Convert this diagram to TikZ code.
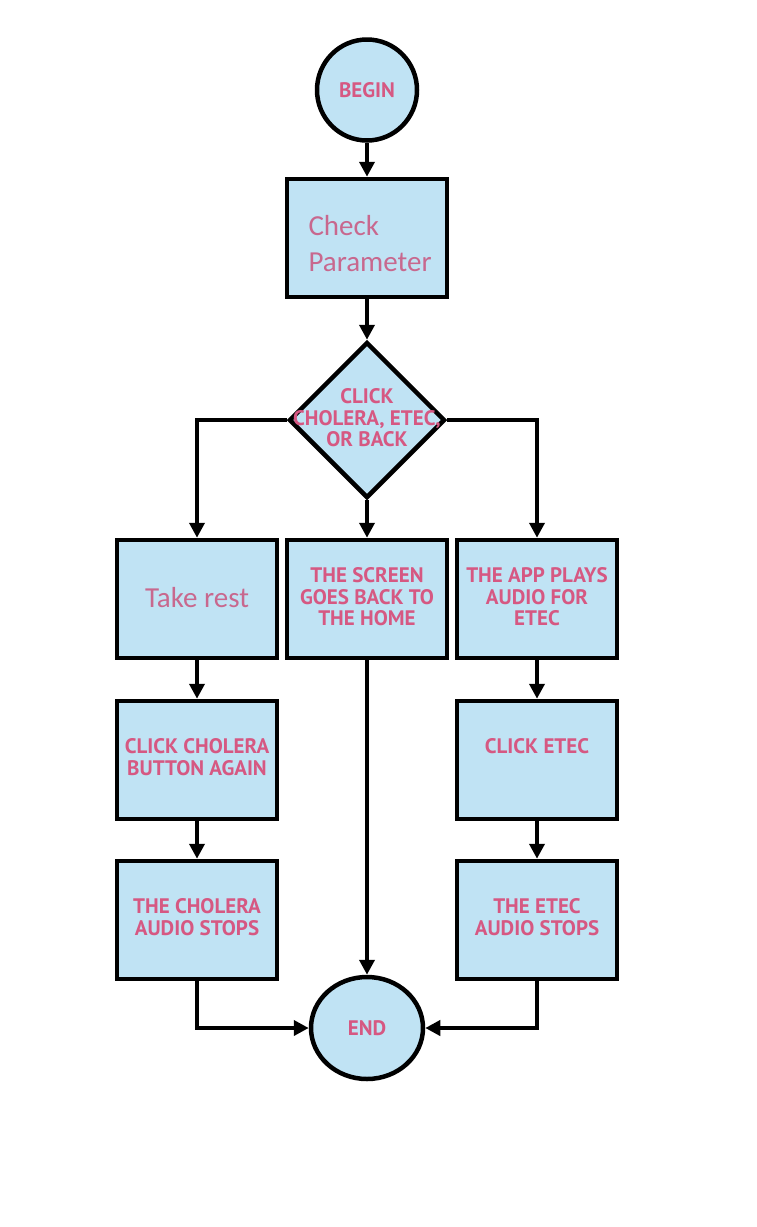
\documentclass[tikz,border=0pt]{standalone}
\usepackage{fontspec}
\setmainfont{Carlito}
\newfontfamily\comicf{PT Sans}
\usetikzlibrary{shapes.geometric,arrows.meta}
\definecolor{boxfill}{RGB}{192,227,244}
\definecolor{pinktxt}{RGB}{214,88,130}
\definecolor{mauvetxt}{RGB}{200,104,142}
\tikzset{
  x=1pt,y=-1pt,
  shapebase/.style={draw=black,line width=4.5pt,fill=boxfill,inner sep=0pt},
  procbox/.style={shapebase,rectangle,minimum width=160pt,minimum height=118pt},
  roundnode/.style={shapebase,ellipse},
  caps/.style={text=pinktxt,font=\comicf\bfseries\fontsize{21}{21.5}\selectfont,align=center},
  plain/.style={text=mauvetxt,font=\fontsize{29}{36}\selectfont,align=left},
  conn/.style={line width=4.5pt,-{Triangle[length=15pt,width=15pt]}}
}
\begin{document}
\begin{tikzpicture}
\useasboundingbox (0,0) rectangle (756,1227);
% nodes
\node[roundnode,minimum width=100pt,minimum height=101pt] (begin) at (367,90) {};
\node[caps] at (begin.center) {BEGIN};
\node[procbox] (check) at (367,238) {};
\node[plain,anchor=west] at (305,244) {Check\\Parameter};
\node[shapebase,diamond,minimum width=156pt,minimum height=156pt] (dia) at (367,420) {};
\node[caps] at (367,418) {CLICK\\CHOLERA, ETEC,\\OR BACK};
\node[procbox] (rest) at (197,599) {};
\node[plain,align=center] at (197,598) {Take rest};
\node[procbox] (screen) at (367,599) {};
\node[caps] at (367,597) {THE SCREEN\\GOES BACK TO\\THE HOME};
\node[procbox] (plays) at (537,599) {};
\node[caps] at (537,597) {THE APP PLAYS\\AUDIO FOR\\ETEC};
\node[procbox] (clickc) at (197,760) {};
\node[caps] at (197,757) {CLICK CHOLERA\\BUTTON AGAIN};
\node[procbox] (clicke) at (537,760) {};
\node[caps] at (537,746) {CLICK ETEC};
\node[procbox] (stopc) at (197,920) {};
\node[caps] at (197,917) {THE CHOLERA\\AUDIO STOPS};
\node[procbox] (stope) at (537,920) {};
\node[caps] at (537,917) {THE ETEC\\AUDIO STOPS};
\node[roundnode,minimum width=112pt,minimum height=102pt] (end) at (367,1028) {};
\node[caps] at (end.center) {END};
% connectors
\draw[conn] (begin.south) -- (check.north);
\draw[conn] (check.south) -- (dia.north);
\draw[conn] (dia.west) -| (rest.north);
\draw[conn] (dia.east) -| (plays.north);
\draw[conn] (dia.south) -- (screen.north);
\draw[conn] (rest.south) -- (clickc.north);
\draw[conn] (clickc.south) -- (stopc.north);
\draw[conn] (plays.south) -- (clicke.north);
\draw[conn] (clicke.south) -- (stope.north);
\draw[conn] (screen.south) -- (end.north);
\draw[conn] (stopc.south) |- (end.west);
\draw[conn] (stope.south) |- (end.east);
\end{tikzpicture}
\end{document}
